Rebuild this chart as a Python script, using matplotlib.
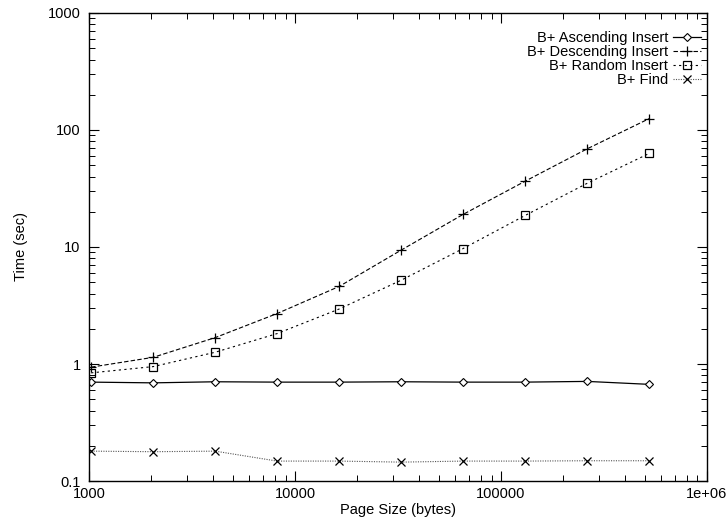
import matplotlib
matplotlib.use("Agg")
from matplotlib import pyplot as plt
from matplotlib.ticker import FixedLocator, FixedFormatter, LogLocator, NullFormatter

plt.rcParams['font.family'] = ['Liberation Sans', 'DejaVu Sans']

page_sizes = [1024, 2048, 4096, 8192, 16384, 32768, 65536, 131072, 262144, 524288]
ascending = [0.70, 0.69, 0.705, 0.70, 0.70, 0.705, 0.70, 0.70, 0.71, 0.67]
descending = [0.94, 1.14, 1.68, 2.7, 4.6, 9.4, 19.0, 36.5, 69.0, 125.0]
random_ins = [0.84, 0.95, 1.26, 1.82, 2.95, 5.2, 9.7, 18.6, 35.0, 63.0]
find = [0.18, 0.178, 0.18, 0.148, 0.148, 0.145, 0.148, 0.148, 0.149, 0.149]

x_ticks = [1000, 10000, 100000, 1000000]
x_labels = ["1000", "10000", "100000", "1e+06"]
y_ticks = [0.1, 1, 10, 100, 1000]
y_labels = ["0.1", "1", "10", "100", "1000"]

fs = 10.5

fig = plt.figure(figsize=(7.28, 5.19), dpi=100)
ax = fig.add_axes([0.1223, 0.0732, 0.8487, 0.9018])

ax.plot(page_sizes, ascending, color="black", lw=0.9, ls="-", marker="D",
        mfc="white", mec="black", ms=4, mew=0.8, label="B+ Ascending Insert")
ax.plot(page_sizes, descending, color="black", lw=0.8, ls=(0, (4, 2)), marker="+",
        ms=7, mew=0.9, label="B+ Descending Insert")
ax.plot(page_sizes, random_ins, color="black", lw=0.8, ls=(0, (2, 3)), marker="s",
        mfc="none", mec="black", ms=6, mew=0.9, label="B+ Random Insert")
ax.plot(page_sizes, find, color="#555555", lw=0.8, ls=(0, (1, 1.2)), marker="x",
        mec="black", ms=6, mew=0.9, label="B+ Find")

ax.set_xscale("log")
ax.set_yscale("log")
ax.set_xlim(1000, 1e6)
ax.set_ylim(0.1, 1000)

ax.xaxis.set_major_locator(FixedLocator(x_ticks))
ax.xaxis.set_major_formatter(FixedFormatter(x_labels))
ax.yaxis.set_major_locator(FixedLocator(y_ticks))
ax.yaxis.set_major_formatter(FixedFormatter(y_labels))
ax.xaxis.set_minor_locator(LogLocator(base=10, subs=range(2, 10)))
ax.yaxis.set_minor_locator(LogLocator(base=10, subs=range(2, 10)))
ax.xaxis.set_minor_formatter(NullFormatter())
ax.yaxis.set_minor_formatter(NullFormatter())

ax.tick_params(which="both", direction="in", top=True, right=True, labelsize=fs)
ax.tick_params(which="major", length=7, width=0.8)
ax.tick_params(which="minor", length=4, width=0.7)
ax.tick_params(axis="x", which="major", pad=4.5)
ax.tick_params(axis="y", which="major", pad=6)
for s in ax.spines.values():
    s.set_linewidth(1.0)

ax.set_xlabel("Page Size (bytes)", fontsize=fs, labelpad=1)
ax.set_ylabel("Time (sec)", fontsize=fs, labelpad=14)

ax.legend(loc="upper right", bbox_to_anchor=(0.99, 0.962), frameon=False,
          markerfirst=False, fontsize=fs, handlelength=1.9, handletextpad=0.35,
          labelspacing=0.0, borderaxespad=0, borderpad=0)

fig.savefig("out.png", dpi=100)
